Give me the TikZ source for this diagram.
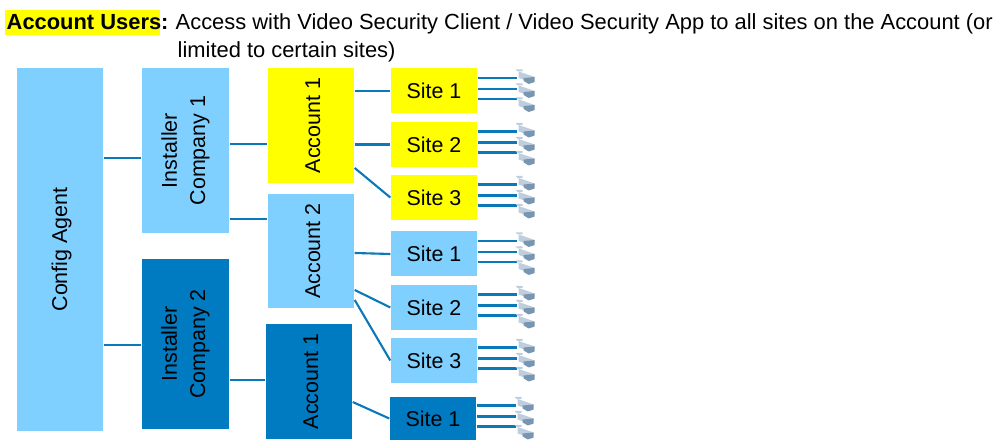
\documentclass[tikz,border=0pt]{standalone}
\usepackage{fontspec}
\setmainfont{Liberation Sans}
\usepackage{xcolor}
\usetikzlibrary{calc,positioning}
\definecolor{paleblue}{RGB}{128,208,255}
\definecolor{deepblue}{RGB}{0,122,192}
\definecolor{wireblue}{RGB}{10,120,185}
\definecolor{markyellow}{RGB}{255,255,0}
\definecolor{camshade}{RGB}{120,150,178}
\definecolor{camlight}{RGB}{190,206,222}
\tikzset{
	wire/.style={wireblue,line width=0.6pt},
	unitbox/.style={inner sep=0pt,font=\fontsize{6.1pt}{8pt}\selectfont},
	headtext/.style={inner sep=0pt,font=\fontsize{6.23pt}{8pt}\selectfont},
	tallbox/.style={unitbox,rotate=90},
	onerow/.style={tallbox,text height=5.3pt},
	campic/.pic={
		\fill[camlight] (-0.10,0.075)--(-0.03,0.075)--(-0.03,0.055)--(-0.08,0.055)--cycle;
		\fill[camlight] (-0.07,0.055)--(0.09,0.00)--(0.07,-0.06)--(-0.07,-0.01)--cycle;
		\fill[camshade] (-0.02,-0.01)--(0.09,0.00)--(0.09,-0.05)--(0.03,-0.07)--(-0.02,-0.04)--cycle;
	}
}
\begin{document}
\begin{tikzpicture}[x=1cm,y=1cm]
	\useasboundingbox (0,0) rectangle (9.99,4.42);
	% heading
	\fill[markyellow] (0.05,4.07) rectangle (1.60,4.32);
	\node[headtext,anchor=base west] (headuser) at (0.06,4.12) {\bfseries Account Users:};
	\node[headtext,anchor=base west] (headtop) at (1.75,4.12) {Access with Video Security Client / Video Security App to all sites on the Account (or};
	\node[headtext,anchor=base west] (headlow) at (1.77,3.84) {limited to certain sites)};
	% left column
	\node[onerow,fill=paleblue,minimum width=3.63cm,minimum height=0.86cm] (config) at (0.60,1.925) {Config Agent};
	\node[tallbox,fill=paleblue,minimum width=1.65cm,minimum height=0.87cm,align=center] (installerA) at (1.855,2.915) {Installer\\Company 1};
	\node[tallbox,fill=deepblue,minimum width=1.70cm,minimum height=0.87cm,align=center] (installerB) at (1.855,0.98) {Installer\\Company 2};
	% accounts
	\node[onerow,fill=markyellow,minimum width=1.15cm,minimum height=0.86cm] (accountA) at (3.11,3.165) {Account 1};
	\node[onerow,fill=paleblue,minimum width=1.14cm,minimum height=0.86cm] (accountB) at (3.11,1.91) {Account 2};
	\node[onerow,fill=deepblue,minimum width=1.15cm,minimum height=0.86cm] (accountC) at (3.09,0.605) {Account 1};
	% sites
	\tikzset{sitebox/.style={unitbox,minimum width=0.86cm,minimum height=0.45cm}}
	\node[sitebox,fill=markyellow] (siteA) at (4.34,3.51) {Site 1};
	\node[sitebox,fill=markyellow] (siteB) at (4.34,2.975) {Site 2};
	\node[sitebox,fill=markyellow] (siteC) at (4.34,2.445) {Site 3};
	\node[sitebox,fill=paleblue] (siteD) at (4.34,1.88) {Site 1};
	\node[sitebox,fill=paleblue] (siteE) at (4.34,1.345) {Site 2};
	\node[sitebox,fill=paleblue] (siteF) at (4.34,0.815) {Site 3};
	\node[sitebox,fill=deepblue,minimum height=0.43cm] (siteG) at (4.33,0.235) {Site 1};
	% links between the columns
	\draw[wire] (config.south |- 0,2.84) -- (installerA.north |- 0,2.84);
	\draw[wire] (config.south |- 0,0.97) -- (installerB.north |- 0,0.97);
	\draw[wire] (installerA.south |- 0,2.98) -- (accountA.north |- 0,2.98);
	\draw[wire] (installerA.south |- 0,2.23) -- (accountB.north |- 0,2.23);
	\draw[wire] (installerB.south |- 0,0.62) -- (accountC.north |- 0,0.62);
	\draw[wire] (accountA.south |- 0,3.51) -- (siteA.west);
	\draw[wire] (accountA.south |- 0,2.975) -- (siteB.west);
	\draw[wire] (accountA.south |- 0,2.74) -- (siteC.west);
	\draw[wire] (accountB.south |- 0,1.89) -- (siteD.west);
	\draw[wire] (accountB.south |- 0,1.52) -- (siteE.west);
	\draw[wire] (accountB.south |- 0,1.42) -- (siteF.west);
	\draw[wire] (accountC.south |- 0,0.40) -- (siteG.west);
	% three cameras on every site
	\foreach \sitename in {siteA,siteB,siteC,siteD,siteE,siteF,siteG}{
		\foreach \dy/\cy in {0.13/0.14,0.02/0.00,-0.08/-0.14}{
			\draw[wire] ($(\sitename.east)+(0,\dy)$) -- ($(\sitename.east)+(0.39,\dy)$);
			\pic at ($(\sitename.east)+(0.48,\cy)$) {campic};
		}
	}
\end{tikzpicture}
\end{document}
